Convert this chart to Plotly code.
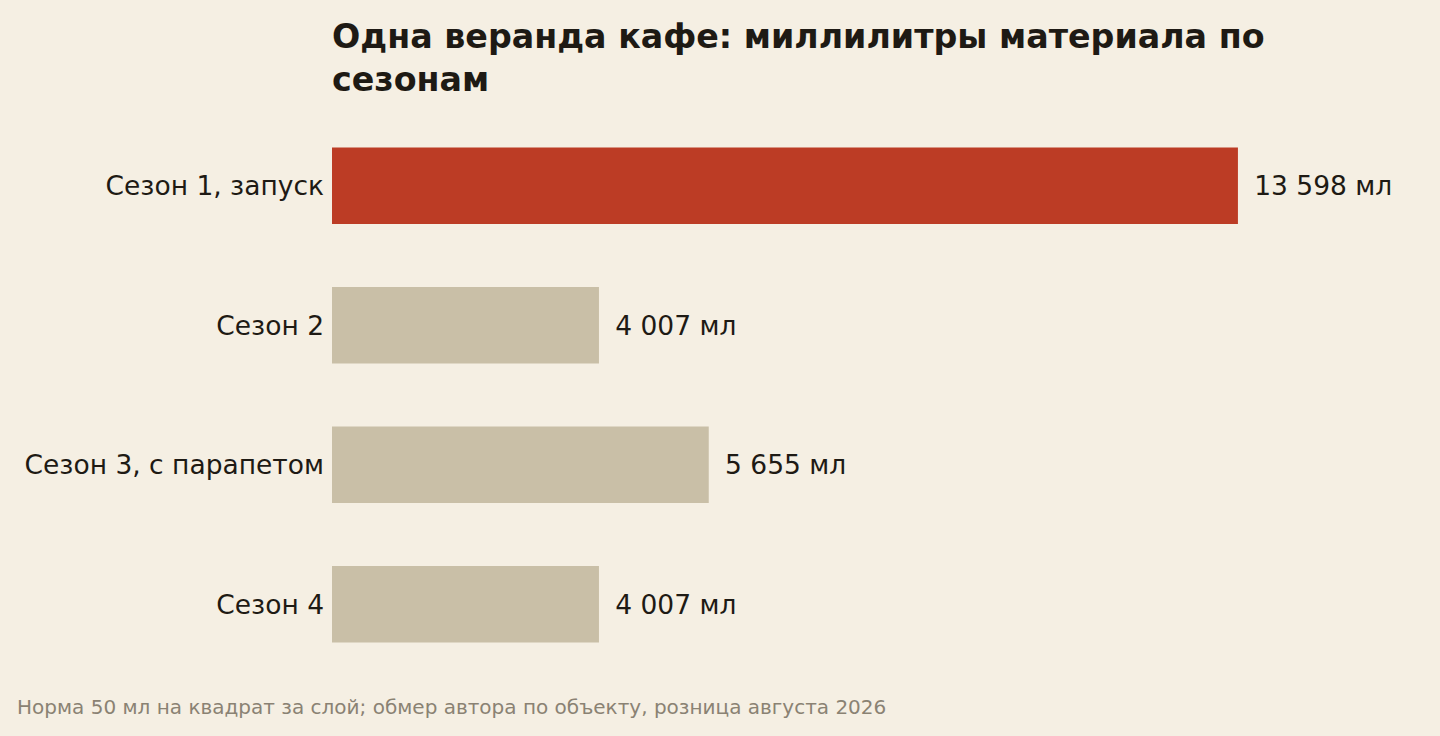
import plotly.graph_objects as go

categories = ["Сезон 1, запуск", "Сезон 2", "Сезон 3, с парапетом", "Сезон 4"]
values = [13598, 4007, 5655, 4007]
labels = ["13 598 мл", "4 007 мл", "5 655 мл", "4 007 мл"]
colors = ["#BC3C25", "#C9BFA7", "#C9BFA7", "#C9BFA7"]

BG = "#F5EFE3"
INK = "#1E1A14"

fig = go.Figure(go.Bar(
    x=values, y=categories, orientation="h",
    marker=dict(color=colors, line=dict(width=0)),
    width=0.55,
    text=["\u2002" + t for t in labels], textposition="outside",
    textfont=dict(family="DejaVu Sans", size=26.5, color=INK),
    cliponaxis=False, hoverinfo="skip",
))

fig.update_layout(
    width=1440, height=736,
    paper_bgcolor=BG, plot_bgcolor=BG,
    margin=dict(l=332, r=39, t=116, b=62),
    font=dict(family="DejaVu Sans", color=INK),
    title=dict(
        text="<b>Одна веранда кафе: миллилитры материала по<br>сезонам</b>",
        x=332/1440, xanchor="left", xref="container",
        y=1 - 48/736, yanchor="top",
        font=dict(family="DejaVu Sans", size=33.3, color=INK),
    ),
    xaxis=dict(range=[0, max(values) * 1.18], visible=False, fixedrange=True),
    yaxis=dict(autorange="reversed", showgrid=False, zeroline=False, showline=False,
               ticks="", tickfont=dict(family="DejaVu Sans", size=26.5, color=INK),
               ticklabelstandoff=7, fixedrange=True),
    showlegend=False,
    annotations=[dict(
        text="Норма 50 мл на квадрат за слой; обмер автора по объекту, розница августа 2026",
        xref="paper", yref="paper", x=-332/1069, y=0, yshift=-19, xshift=15,
        xanchor="left", yanchor="top", showarrow=False,
        font=dict(family="DejaVu Sans", size=20, color="#8A8273"),
    )],
)

fig.write_html("out.html", config={"displayModeBar": False},
               post_script="document.body.style.margin='0';")
